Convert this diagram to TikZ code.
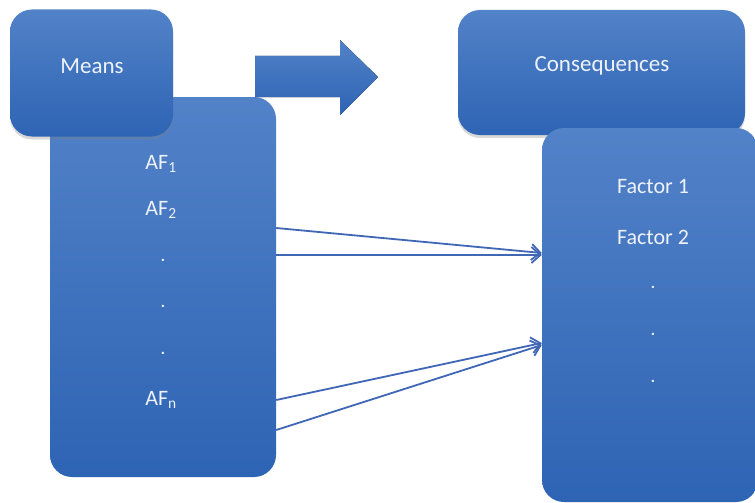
\documentclass[tikz,border=0pt]{standalone}
\usepackage{fontspec}
\setmainfont{Carlito}
\usetikzlibrary{arrows.meta,shadows}
\definecolor{boxtop}{HTML}{5282C8}
\definecolor{boxbot}{HTML}{2E64B4}
\definecolor{linkblue}{HTML}{3F67B6}
\definecolor{labelwhite}{HTML}{EEF2FA}
\tikzset{
  panel/.style={rectangle, rounded corners=22pt, top color=boxtop, bottom color=boxbot,
    draw=none, inner sep=0pt},
  shade/.style={drop shadow={opacity=0.3, shadow xshift=0pt, shadow yshift=-3pt}},
  heading/.style={text=labelwhite, font=\fontsize{23}{26}\selectfont, inner sep=0pt},
  item/.style={text=labelwhite, font=\fontsize{22}{26}\selectfont, inner sep=0pt},
  dotitem/.style={text=labelwhite, font=\fontsize{16}{18}\selectfont\bfseries, inner sep=0pt},
  link/.style={draw=linkblue, line width=1.8pt, -{Straight Barb[length=9pt,width=16pt,line width=1.8pt]}},
}
\begin{document}
\begin{tikzpicture}[x=1pt,y=-1pt]
\useasboundingbox (0,0) rectangle (755,503);
\fill[white] (0,0) rectangle (755,503);

% left column: factor list, with its heading in front
\node[panel, minimum width=226pt, minimum height=380pt] (afs) at (163,287) {};
\node[panel, shade, minimum width=163pt, minimum height=127pt] (means) at (91.5,73) {};
\node[heading] (meanstext) at (92,66) {Means};

% right column: heading behind the factor list
\node[panel, shade, minimum width=287pt, minimum height=125pt] (cons) at (601.5,72.5) {};
\node[heading] (constext) at (602,66) {Consequences};
\node[panel, minimum width=216pt, minimum height=374pt] (facs) at (650,315) {};

% block arrow between the headings
\fill[top color=boxtop, bottom color=boxbot]
  (255,56) -- (340,56) -- (340,40) -- (378,77) -- (340,115) -- (340,97) -- (255,97) -- cycle;

% entries of the left list
\node[item] (af1) at (161,164) {AF\textsubscript{1}};
\node[item] (af2) at (161,210) {AF\textsubscript{2}};
\node[dotitem] (ld1) at (163,260) {.};
\node[dotitem] (ld2) at (163,306) {.};
\node[dotitem] (ld3) at (163,353) {.};
\node[item] (afn) at (161,400) {AF\textsubscript{n}};

% entries of the right list
\node[item] (f1) at (653,187) {Factor 1};
\node[item] (f2) at (653,237) {Factor 2};
\node[dotitem] (rd1) at (653,287) {.};
\node[dotitem] (rd2) at (653,334) {.};
\node[dotitem] (rd3) at (653,381) {.};

% links from the left list to the right list
\draw[link] ([yshift=59pt]afs.east) -- ([yshift=62pt]facs.west);
\draw[link] ([yshift=32pt]afs.east) -- ([yshift=60pt]facs.west);
\draw[link] ([yshift=-113pt]afs.east) -- ([yshift=-28pt]facs.west);
\draw[link] ([yshift=-143pt]afs.east) -- ([yshift=-30pt]facs.west);
\end{tikzpicture}
\end{document}
